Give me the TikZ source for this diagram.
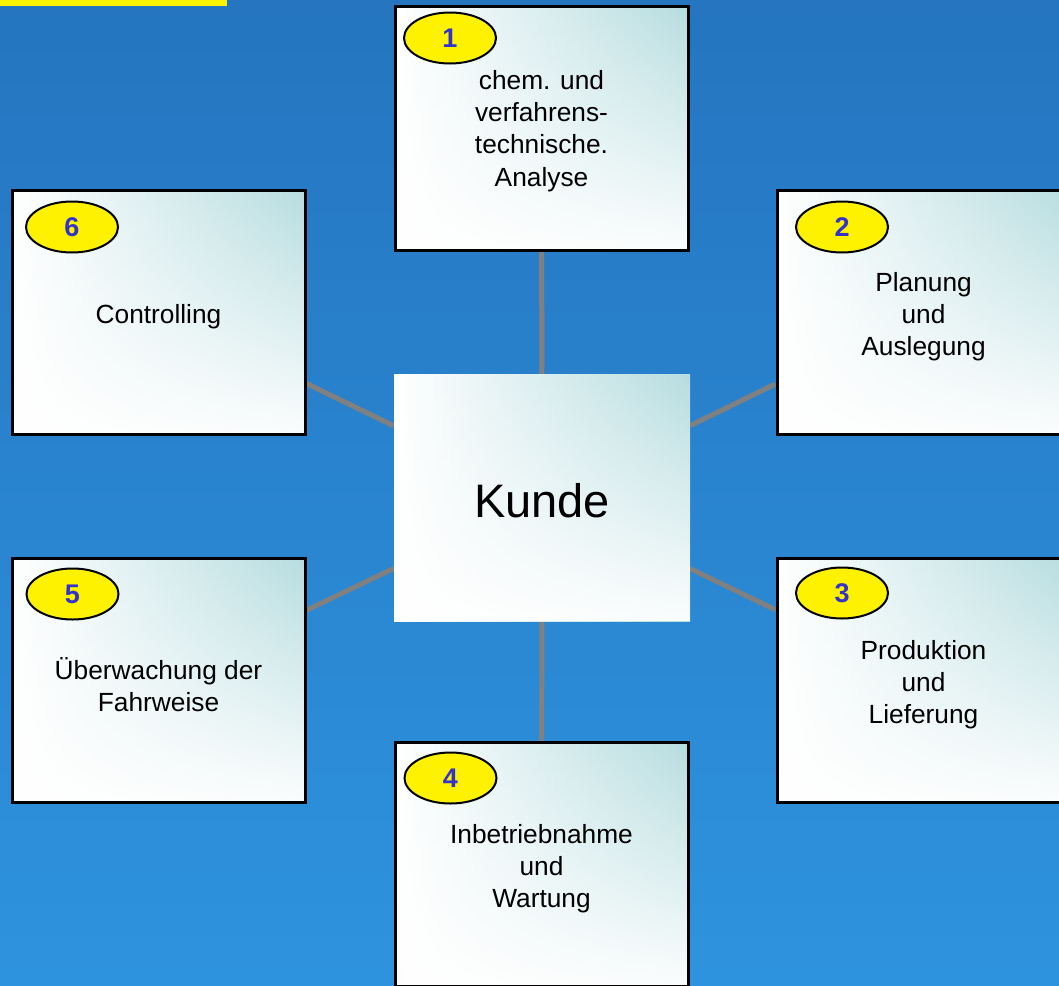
\documentclass[tikz,border=0pt]{standalone}
\usepackage{fontspec}
\setmainfont{Liberation Sans}
\usetikzlibrary{backgrounds,shapes.geometric,fadings}
\definecolor{bgtop}{RGB}{37,117,192}
\definecolor{bgbot}{RGB}{46,147,222}
\definecolor{tealc}{RGB}{183,221,224}
\definecolor{numblue}{RGB}{51,51,204}
\definecolor{linegray}{RGB}{128,128,128}
\tikzfading[name=fadebot, top color=transparent!100, middle color=transparent!65, bottom color=transparent!5]
\tikzset{
  glow/.style={path picture={
    \shade[left color=white, middle color=tealc!55!white, right color=tealc]
      (path picture bounding box.south west) rectangle (path picture bounding box.north east);
    \fill[white, path fading=fadebot]
      (path picture bounding box.south west) rectangle (path picture bounding box.north east);}},
  box/.style={draw=black, line width=3pt, minimum width=293pt, minimum height=244pt, inner sep=0pt, fill=white, glow},
  boxtext/.style={align=center, inner sep=0pt, font=\fontsize{26.3}{32.3}\selectfont},
  hub/.style={minimum width=296pt, minimum height=247pt, inner sep=0pt, fill=white, glow},
  hubtext/.style={inner sep=0pt, font=\fontsize{47}{56}\selectfont},
  num/.style={ellipse, draw=black, line width=2pt, fill=yellow, minimum width=92pt, minimum height=51pt, inner sep=0pt, text=numblue, font=\fontsize{27}{30}\selectfont\bfseries},
  link/.style={draw=linegray, line width=5pt},
}
\begin{document}
\begin{tikzpicture}[x=1pt,y=-1pt]
\useasboundingbox (0,0) rectangle (1059,985);
\begin{scope}[on background layer]
  \shade[top color=bgtop, bottom color=bgbot] (0,0) rectangle (1059,985);
\end{scope}
\clip (0,0) rectangle (1059,985);
\fill[yellow] (0,0) rectangle (227,6);

\node[hub] (hub) at (542,497.5) {};
\node[box] (box1) at (541.5,128) {};
\node[box] (box2) at (923.5,312.5) {};
\node[box] (box3) at (923.5,680.5) {};
\node[box] (box4) at (541.5,864.5) {};
\node[box] (box5) at (158.5,680.5) {};
\node[box] (box6) at (158.5,312.5) {};

\node[hubtext] (thub) at ([yshift=-3pt]hub.center) {Kunde};
\node[boxtext] (t1) at ([yshift=-3pt]box1.center) {chem. und\\verfahrens-\\technische.\\Analyse};
\node[boxtext] (t2) at ([yshift=-4pt]box2.center) {Planung\\und\\Auslegung};
\node[boxtext] (t3) at ([yshift=-4pt]box3.center) {Produktion\\und\\Lieferung};
\node[boxtext] (t4) at ([yshift=-4pt]box4.center) {Inbetriebnahme\\und\\Wartung};
\node[boxtext] (t5) at ([yshift=-4pt]box5.center) {Überwachung der\\Fahrweise};
\node[boxtext] (t6) at ([yshift=-4pt]box6.center) {Controlling};

\node[num] (n1) at (450,38) {1};
\node[num] (n2) at (842,227) {2};
\node[num] (n3) at (842,593) {3};
\node[num] (n4) at (450.5,778) {4};
\node[num] (n5) at (72.5,594) {5};
\node[num] (n6) at (72,227) {6};

\begin{scope}[on background layer]
  \draw[link] (hub) -- (box1);
  \draw[link] (hub) -- (box2);
  \draw[link] (hub) -- (box3);
  \draw[link] (hub) -- (box4);
  \draw[link] (hub) -- (box5);
  \draw[link] (hub) -- (box6);
\end{scope}
\end{tikzpicture}
\end{document}
